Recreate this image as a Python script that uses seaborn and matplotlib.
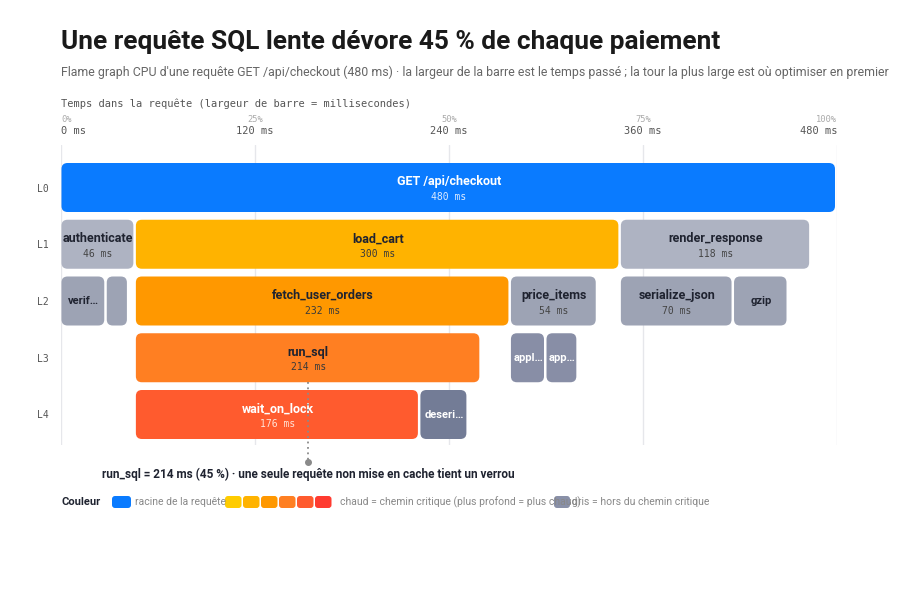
import numpy as np
import pandas as pd
import matplotlib
matplotlib.use("Agg")
import matplotlib.pyplot as plt
from matplotlib.patches import FancyBboxPatch
from matplotlib import transforms
import seaborn as sns

# ---- data ----
title = "Une requête SQL lente dévore 45 % de chaque paiement"
subtitle = ("Flame graph CPU d'une requête GET /api/checkout (480 ms) · la largeur de la barre "
            "est le temps passé ; la tour la plus large est où optimiser en premier")
axis_title = "Temps dans la requête (largeur de barre = millisecondes)"

levels = [0, 1, 1, 1, 2, 2, 2, 2, 2, 2, 3, 3, 3, 4, 4]
names = ["GET /api/checkout", "authenticate", "load_cart", "render_response",
         "verify_token", "read_session", "fetch_user_orders", "price_items",
         "serialize_json", "gzip", "run_sql", "apply_discounts", "apply_tax",
         "wait_on_lock", "deserialize_rows"]
shown = ["GET /api/checkout", "authenticate", "load_cart", "render_response",
         "verif…", "", "fetch_user_orders", "price_items",
         "serialize_json", "gzip", "run_sql", "appl…", "app…",
         "wait_on_lock", "deseri…"]
starts = [0, 0, 46, 346, 0, 28, 46, 278, 346, 416, 46, 278, 300, 46, 222]
durations = [480, 46, 300, 118, 28, 14, 232, 54, 70, 34, 214, 22, 20, 176, 30]
kinds = ["root", "cold", "hot", "cold", "cold", "cold", "hot", "cold",
         "cold", "cold", "hot", "cold", "cold", "hot", "cold"]

row_labels = ["L0", "L1", "L2", "L3", "L4"]
tick_ms = [0, 120, 240, 360, 480]
tick_pct = ["0%", "25%", "50%", "75%", "100%"]
total_ms = 480

hot_colors = ["#FFCC00", "#FFB300", "#FF9800", "#FF7F22", "#FF5B2E", "#FF3B30"]
cold_colors = ["#AEB3C2", "#9DA3B4", "#888EA6", "#737C96"]
root_color = "#0A7BFF"
legend_gray = "#8990A8"

annot_text = "run_sql = 214 ms (45 %) · une seule requête non mise en cache tient un verrou"

df = pd.DataFrame({"level": levels, "name": names, "shown": shown,
                   "start": starts, "dur": durations, "kind": kinds})

# ---- style ----
sns.set_theme(style="white")
plt.rcParams["font.family"] = ["Roboto", "DejaVu Sans"]
MONO = "DejaVu Sans Mono"

W, H = 900, 596
fig = plt.figure(figsize=(9, 5.96), dpi=100)

# overlay axes in pixel coordinates
ov = fig.add_axes([0, 0, 1, 1])
ov.set_xlim(0, W)
ov.set_ylim(H, 0)
ov.axis("off")

# main flame axes
left, right, top, bottom = 61, 837, 145, 445
row0, pitch, bar_h = 187.5, 56.75, 49
ax = fig.add_axes([left / W, 1 - bottom / H, (right - left) / W, (bottom - top) / H])
ax.set_xlim(0, total_ms)
ax.set_ylim((bottom - row0) / pitch, -(row0 - top) / pitch)
ppm = (right - left) / total_ms  # pixels per ms

ax.set_xticks(tick_ms)
ax.grid(axis="x", color="#E6E7EB", lw=1)
ax.set_axisbelow(True)
ax.tick_params(axis="x", bottom=False, labelbottom=False)
ax.set_yticks(range(len(row_labels)))
ax.set_yticklabels(row_labels, fontfamily=MONO, fontsize=7, color="#555555")
ax.tick_params(axis="y", left=False, length=0, pad=8.6)
sns.despine(ax=ax, left=True, bottom=True)
ax.patch.set_alpha(0)

for _, r in df.iterrows():
    if r.kind == "root":
        fc, tc, mc = root_color, "white", "#DDEBFF"
    elif r.kind == "hot":
        fc = hot_colors[r.level]
        dark = r.level >= 4
        tc, mc = ("white", "#FFE3D8") if dark else ("#1F2330", "#3A3A3A")
    else:
        fc = cold_colors[r.level - 1]
        dark = r.level >= 3
        tc, mc = ("white", "#EEEEEE") if dark else ("#1F2330", "#444444")
    x0 = r.start + 0.5 / ppm
    w = r.dur - 2.5 / ppm
    y0 = r.level - bar_h / 2 / pitch
    box = FancyBboxPatch((x0, y0), w, bar_h / pitch,
                         boxstyle=f"round,pad=0,rounding_size={6 / ppm}",
                         mutation_aspect=ppm / pitch, fc=fc, ec="none", zorder=2)
    ax.add_patch(box)
    cx = r.start + r.dur / 2
    if r.shown == "":
        continue
    if r.dur >= 46:
        ax.text(cx, r.level - 5.5 / pitch, r.shown, ha="center", va="center",
                fontsize=9, fontweight="bold", color=tc, zorder=3)
        ax.text(cx, r.level + 9.5 / pitch, f"{r.dur} ms", ha="center", va="center",
                fontsize=7, fontfamily=MONO, color=mc, zorder=3)
    else:
        ax.text(cx, r.level, r.shown, ha="center", va="center",
                fontsize=8, fontweight="bold", color=tc, zorder=3)

# top tick labels
bt = transforms.blended_transform_factory(ax.transData, ov.transData)
for i, (t, p) in enumerate(zip(tick_ms, tick_pct)):
    ha = "left" if i == 0 else ("right" if i == len(tick_ms) - 1 else "center")
    ov.text(t, 120, p, transform=bt, ha=ha, va="center", fontsize=6.3,
            fontfamily=MONO, color="#AAAAAA")
    ov.text(t, 131, f"{t} ms", transform=bt, ha=ha, va="center", fontsize=7.5,
            fontfamily=MONO, color="#555555")

# annotation on run_sql
hot_row = df[df.name == "run_sql"].iloc[0]
ax_x = hot_row.start + hot_row.dur / 2
y_top = hot_row.level + bar_h / 2 / pitch
y_end = (462 - row0) / pitch
ax.plot([ax_x, ax_x], [y_top, y_end], ls=(0, (1, 2)), color="#8A8A8A", lw=1.3,
        clip_on=False, zorder=4)
ax.plot([ax_x], [y_end], "o", ms=4, color="#8A8A8A", clip_on=False, zorder=4)
ov.text(ax_x, 474, annot_text, transform=bt, ha="center", va="center",
        fontsize=8.5, fontweight="bold", color="#1F2330")

# title / subtitle / axis title
ov.text(61, 42, title, ha="left", va="center", fontsize=18.9, fontweight="bold", color="#1A1A1A")
ov.text(61, 72, subtitle, ha="left", va="center", fontsize=8.9, color="#666666")
ov.text(61, 104, axis_title, ha="left", va="center", fontsize=7.5, fontfamily=MONO, color="#555555")

# legend
def swatch(x, color, w=17):
    ov.add_patch(FancyBboxPatch((x, 496), w, 12, boxstyle="round,pad=0,rounding_size=3",
                                fc=color, ec="none"))

ov.text(61, 502, "Couleur", ha="left", va="center", fontsize=8, fontweight="bold", color="#1F2330")
swatch(112, root_color, 19)
ov.text(135, 502, "racine de la requête", ha="left", va="center", fontsize=7.5, color="#888888")
for i, c in enumerate(hot_colors):
    swatch(225 + i * 18, c, 16.5)
ov.text(340, 502, "chaud = chemin critique (plus profond = plus chaud)", ha="left",
        va="center", fontsize=7.5, color="#888888")
swatch(554, legend_gray, 16)
ov.text(572, 502, "gris = hors du chemin critique", ha="left", va="center",
        fontsize=7.5, color="#888888")

fig.savefig("out.png", dpi=100)
